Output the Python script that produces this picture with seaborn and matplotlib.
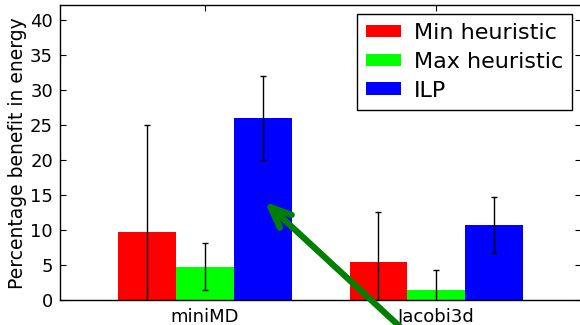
import matplotlib
matplotlib.use("Agg")
import matplotlib.pyplot as plt
import seaborn as sns
import pandas as pd
import numpy as np

benchmarks = ["miniMD", "Jacobi3d"]
methods = ["Min heuristic", "Max heuristic", "ILP"]
min_vals = [9.76, 5.43]
max_vals = [4.76, 1.43]
ilp_vals = [26.0, 10.71]
min_err = [15.2, 7.05]
max_err = [3.4, 2.86]
ilp_err = [6.0, 3.95]
colors = ["#ff0000", "#00ff00", "#0000ff"]

sns.set_style("ticks")
plt.rcParams.update({
    "font.family": ["DejaVu Sans"],
    "text.color": "black", "axes.labelcolor": "black",
    "xtick.direction": "in", "ytick.direction": "in",
    "xtick.top": True, "ytick.right": True,
    "xtick.major.size": 4, "ytick.major.size": 4,
    "xtick.major.pad": 6, "ytick.major.pad": 5,
    "axes.edgecolor": "black", "axes.linewidth": 1.0,
    "xtick.color": "black", "ytick.color": "black",
    "xtick.labelcolor": "black", "ytick.labelcolor": "black",
})

rows = []
for m, vals in zip(methods, [min_vals, max_vals, ilp_vals]):
    for b, v in zip(benchmarks, vals):
        rows.append({"benchmark": b, "method": m, "value": v})
df = pd.DataFrame(rows)
errs = {"Min heuristic": min_err, "Max heuristic": max_err, "ILP": ilp_err}

fig = plt.figure(figsize=(5.8, 3.25), dpi=100)
ax = fig.add_axes([60/580, 25/325, 521/580, 294.5/325])
sns.barplot(data=df, x="benchmark", y="value", hue="method", order=benchmarks,
            hue_order=methods, palette=colors, width=0.75, errorbar=None,
            linewidth=0, saturation=1, ax=ax)

# error bars at bar centers
for cont, m in zip(ax.containers, methods):
    xs = [p.get_x() + p.get_width() / 2 for p in cont.patches]
    ys = [p.get_height() for p in cont.patches]
    ax.errorbar(xs, ys, yerr=errs[m], fmt="none", ecolor="black",
                elinewidth=1.0, capsize=2.5, capthick=1.0, zorder=5)

ax.set_xlim(-0.626, 1.625)
ax.set_ylim(0, 42)
ax.set_yticks(np.arange(0, 41, 5))
ax.set_xlabel("")
ax.set_ylabel("Percentage benefit in energy", fontsize=13.5, labelpad=2)
ax.tick_params(axis="both", labelsize=13)
for s in ax.spines.values():
    s.set_visible(True)

h, l = ax.get_legend_handles_labels()
ax.legend(h, l, loc="upper right", bbox_to_anchor=(572/580, 1 - 14/325),
          bbox_transform=fig.transFigure, fontsize=16, frameon=True,
          fancybox=False, edgecolor="black", framealpha=1, borderaxespad=0,
          handlelength=1.55, handleheight=0.5, labelspacing=0.4,
          borderpad=0.4, handletextpad=0.6)
ax.get_legend().get_frame().set_linewidth(1.0)

ax.annotate("", xy=(0.249, 14.3), xytext=(0.885, -5.1),
            arrowprops=dict(arrowstyle="->, head_length=0.6, head_width=0.25",
                            color="green", lw=4.5, mutation_scale=25),
            annotation_clip=False, zorder=10)

fig.savefig("out.png", dpi=100)
